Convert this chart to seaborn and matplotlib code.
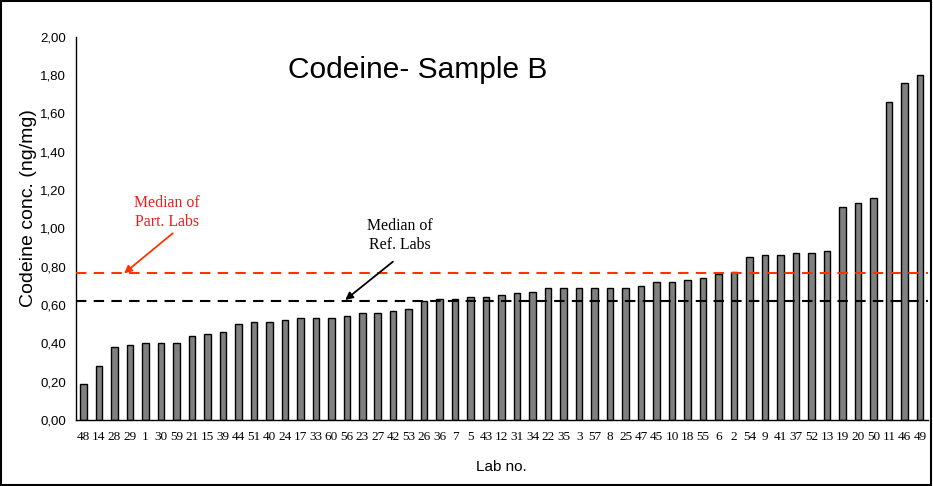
import numpy as np
import pandas as pd
import matplotlib
matplotlib.use("Agg")
import matplotlib.pyplot as plt
from matplotlib.patches import Rectangle
from matplotlib.ticker import FuncFormatter, FixedLocator
import seaborn as sns

# Lab numbers, sorted by measured codeine concentration
LABS = ["48", "14", "28", "29", "1", "30", "59", "21", "15", "39",
        "44", "51", "40", "24", "17", "33", "60", "56", "23", "27",
        "42", "53", "26", "36", "7", "5", "43", "12", "31", "34",
        "22", "35", "3", "57", "8", "25", "47", "45", "10", "18",
        "55", "6", "2", "54", "9", "41", "37", "52", "13", "19",
        "20", "50", "11", "46", "49"]

CONC = [0.19, 0.28, 0.38, 0.39, 0.40, 0.40, 0.40, 0.44, 0.45, 0.46,
        0.50, 0.51, 0.51, 0.52, 0.53, 0.53, 0.53, 0.54, 0.56, 0.56,
        0.57, 0.58, 0.62, 0.63, 0.63, 0.64, 0.64, 0.65, 0.66, 0.67,
        0.69, 0.69, 0.69, 0.69, 0.69, 0.69, 0.70, 0.72, 0.72, 0.73,
        0.74, 0.76, 0.77, 0.85, 0.86, 0.86, 0.87, 0.87, 0.88, 1.11,
        1.13, 1.16, 1.66, 1.76, 1.80]

MEDIAN_PART = 0.767
MEDIAN_REF = 0.62

RED = "#ff3300"
RED_TEXT = "#e8201a"

df = pd.DataFrame({"lab": LABS, "conc": CONC})

sns.set_style("white")
plt.rcParams.update({"text.color": "black", "axes.labelcolor": "black",
                     "xtick.color": "black", "ytick.color": "black"})

fig = plt.figure(figsize=(9.33, 4.86), dpi=100)
ax = fig.add_axes([75.6 / 933, 1 - 420 / 486, (927.8 - 75.6) / 933, (420 - 36.6) / 486])

sns.barplot(data=df, x="lab", y="conc", order=LABS, color="#808080",
            edgecolor="black", linewidth=1.0, width=0.42, saturation=1, ax=ax)

ax.set_xlim(-0.5, len(LABS) - 0.5)
ax.set_ylim(0, 2.0)
ax.set_yticks(np.arange(0, 2.01, 0.2))
ax.yaxis.set_major_formatter(FuncFormatter(lambda v, p: f"{v:.2f}".replace(".", ",")))

# category boundary ticks on the x axis, labels at the centres
ax.xaxis.set_minor_locator(FixedLocator(np.arange(-0.5, len(LABS), 1.0)))
ax.tick_params(axis="x", which="major", length=0, pad=8)
ax.tick_params(axis="x", which="minor", length=4, width=1, direction="out", color="black")
ax.tick_params(axis="y", length=4, width=1, direction="out", color="black", pad=3)
for lbl in ax.get_xticklabels():
    lbl.set_fontfamily("Liberation Serif")
    lbl.set_fontsize(9.5)
for lbl in ax.get_yticklabels():
    lbl.set_fontfamily("Liberation Sans")
    lbl.set_fontsize(9.5)

for side in ["top", "right"]:
    ax.spines[side].set_visible(False)
for side in ["left", "bottom"]:
    ax.spines[side].set_color("black")
    ax.spines[side].set_linewidth(1.0)

ax.axhline(MEDIAN_PART, color=RED, linestyle=(0, (5, 3.5)), linewidth=1.5, zorder=3)
ax.axhline(MEDIAN_REF, color="black", linestyle=(0, (5, 3.5)), linewidth=1.5, zorder=3)

ax.set_xlabel("Lab no.", fontfamily="Liberation Sans", fontsize=11, labelpad=12)
ax.set_ylabel("Codeine conc. (ng/mg)", fontfamily="Liberation Sans", fontsize=14)
ax.yaxis.set_label_coords(-0.0455, 0.552)

ax.text(0.402, 0.892, "Codeine- Sample B", transform=ax.transAxes, ha="center",
        va="baseline", fontfamily="Liberation Sans", fontsize=21.5)

# median annotations
ax.text(5.4, 1.085, "Median of\nPart. Labs", color=RED_TEXT, fontfamily="Liberation Serif",
        fontsize=11.4, ha="center", va="center", linespacing=1.25)
ax.annotate("", xy=(2.63, 0.765), xytext=(5.77, 0.974),
            arrowprops=dict(arrowstyle="-|>", color=RED, lw=1.3, mutation_scale=11,
                            shrinkA=0, shrinkB=0))
ax.text(20.41, 0.96, "Median of\nRef. Labs", color="black", fontfamily="Liberation Serif",
        fontsize=11.4, ha="center", va="center", linespacing=1.25)
ax.annotate("", xy=(16.9, 0.626), xytext=(19.98, 0.826),
            arrowprops=dict(arrowstyle="-|>", color="black", lw=1.3, mutation_scale=11,
                            shrinkA=0, shrinkB=0))

fig.patches.append(Rectangle((0.001, 0.002), 0.997, 0.996, transform=fig.transFigure,
                             fill=False, edgecolor="black", linewidth=1.5))

fig.savefig("out.png", dpi=100)
